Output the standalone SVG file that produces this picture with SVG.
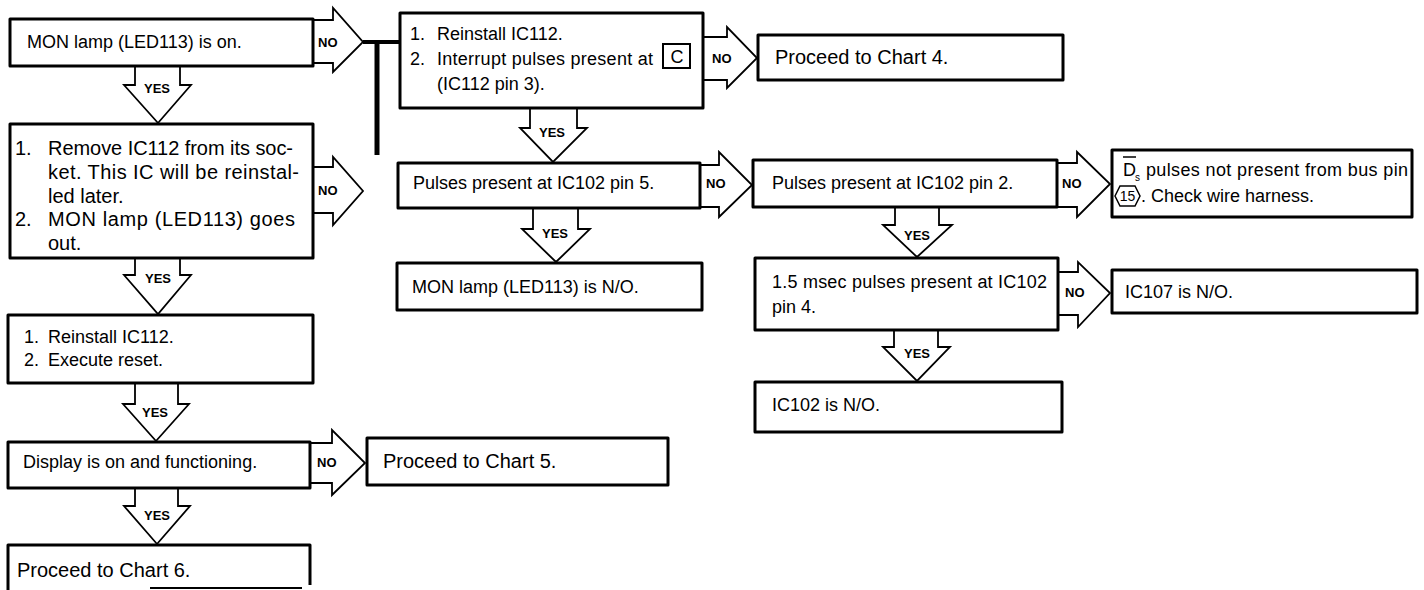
<svg xmlns="http://www.w3.org/2000/svg" width="1424" height="590" viewBox="0 0 1424 590">
<style>
.box{fill:#fff;stroke:#000;stroke-width:3;stroke-linejoin:round}
.arr{fill:#fff;stroke:#000;stroke-width:1.8;stroke-linejoin:miter}
.bar{stroke:#000;fill:none}
text{font-family:"Liberation Sans",Arial,Helvetica,sans-serif;fill:#000}
.t{font-size:18px}
.tl{font-size:20px}
.lbl{font-size:13px;font-weight:bold}
.yes{font-size:13px;font-weight:bold;text-anchor:middle}
</style>
<rect width="1424" height="590" fill="#fff"/>
<g id="connectors">
  <path class="arr" d="M135,66 V85 H124 L158,123 L191,85 H180 V66"/>
  <path class="arr" d="M135,258 V275 H124 L158,314 L191,275 H180 V258"/>
  <path class="arr" d="M135,383 V404 H123 L156,441 L189,404 H178 V383"/>
  <path class="arr" d="M135,488 V506 H124 L157,544 L190,506 H178 V488"/>
  <path class="arr" d="M530,108 V128 H520 L553,162 L587,128 H577 V108"/>
  <path class="arr" d="M533,208 V229 H522 L556,262 L590,229 H578 V208"/>
  <path class="arr" d="M895,207 V225 H883 L917,257 L952,225 H939 V207"/>
  <path class="arr" d="M894,330 V347 H883 L917,381 L950,347 H938 V330"/>
  <path class="arr" d="M313,20 H333 V8 L363,42 L333,72 V63 H313"/>
  <path class="arr" d="M313,167 H333 V157 L363,191 L333,225 V213 H313"/>
  <path class="arr" d="M310,443 H332 V430 L365,463 L332,495 V483 H310"/>
  <path class="arr" d="M703,37 H727 V27 L757,58 L727,88 V80 H703"/>
  <path class="arr" d="M700,165 H719 V152 L752,185 L719,217 V207 H700"/>
  <path class="arr" d="M1057,163 H1077 V152 L1110,184 L1077,217 V207 H1057"/>
  <path class="arr" d="M1058,272 H1078 V262 L1110,293 L1078,327 V315 H1058"/>
  <line class="bar" x1="363" y1="42" x2="401" y2="42" stroke-width="4"/>
  <line class="bar" x1="377" y1="40" x2="377" y2="155" stroke-width="5"/>
  <text class="yes" x="157" y="93">YES</text>
  <text class="yes" x="158" y="283">YES</text>
  <text class="yes" x="155" y="417">YES</text>
  <text class="yes" x="157" y="520">YES</text>
  <text class="yes" x="552" y="137">YES</text>
  <text class="yes" x="555" y="238">YES</text>
  <text class="yes" x="917" y="240">YES</text>
  <text class="yes" x="917" y="358">YES</text>
  <text class="lbl" x="318" y="47">NO</text>
  <text class="lbl" x="318" y="195">NO</text>
  <text class="lbl" x="317" y="467">NO</text>
  <text class="lbl" x="712" y="63">NO</text>
  <text class="lbl" x="706" y="188">NO</text>
  <text class="lbl" x="1062" y="188">NO</text>
  <text class="lbl" x="1065" y="297">NO</text>
</g>
<g id="n-mon-on">
  <rect class="box" x="10" y="19" width="303" height="47"/>
  <text class="t" x="27" y="48">MON lamp (LED113) is on.</text>
</g>
<g id="n-remove">
  <rect class="box" x="10" y="124" width="303" height="134"/>
  <text class="tl" x="15" y="155">1.</text>
  <text class="tl" x="48" y="155" textLength="245" lengthAdjust="spacing">Remove IC112 from its soc-</text>
  <text class="tl" x="48" y="179" textLength="251" lengthAdjust="spacing">ket. This IC will be reinstal-</text>
  <text class="tl" x="48" y="203">led later.</text>
  <text class="tl" x="15" y="226">2.</text>
  <text class="tl" x="48" y="226" textLength="247" lengthAdjust="spacing">MON lamp (LED113) goes</text>
  <text class="tl" x="48" y="250">out.</text>
</g>
<g id="n-reinstall-reset">
  <rect class="box" x="8" y="315" width="305" height="68"/>
  <text class="t" x="24" y="343">1.</text>
  <text class="t" x="48" y="343">Reinstall IC112.</text>
  <text class="t" x="24" y="366">2.</text>
  <text class="t" x="48" y="366">Execute reset.</text>
</g>
<g id="n-display">
  <rect class="box" x="8" y="442" width="302" height="46"/>
  <text class="t" x="23" y="468">Display is on and functioning.</text>
</g>
<g id="n-chart5">
  <rect class="box" x="367" y="438" width="301" height="47"/>
  <text class="tl" x="383" y="468">Proceed to Chart 5.</text>
</g>
<g id="n-chart6">
  <path class="box" d="M8,592 V545 H310 V585"/>
  <line x1="150" y1="588" x2="302" y2="588" stroke="#000" stroke-width="2"/>
  <text class="tl" x="17" y="577">Proceed to Chart 6.</text>
</g>
<g id="n-reinstall-interrupt">
  <rect class="box" x="400" y="13" width="303" height="95"/>
  <text class="t" x="410" y="40">1.</text>
  <text class="t" x="437" y="40">Reinstall IC112.</text>
  <text class="t" x="410" y="65">2.</text>
  <text class="t" x="437" y="65" textLength="216" lengthAdjust="spacing">Interrupt pulses present at</text>
  <rect x="663" y="44" width="27" height="24" fill="none" stroke="#000" stroke-width="2"/>
  <text class="t" x="677" y="63" text-anchor="middle">C</text>
  <text class="t" x="437" y="90">(IC112 pin 3).</text>
</g>
<g id="n-chart4">
  <rect class="box" x="758" y="35" width="305" height="45"/>
  <text class="tl" x="775" y="64">Proceed to Chart 4.</text>
</g>
<g id="n-pin5">
  <rect class="box" x="398" y="163" width="302" height="45"/>
  <text class="t" x="413" y="189">Pulses present at IC102 pin 5.</text>
</g>
<g id="n-mon-no">
  <rect class="box" x="397" y="263" width="305" height="47"/>
  <text class="t" x="412" y="293">MON lamp (LED113) is N/O.</text>
</g>
<g id="n-pin2">
  <rect class="box" x="753" y="160" width="304" height="47"/>
  <text class="t" x="772" y="189">Pulses present at IC102 pin 2.</text>
</g>
<g id="n-ds">
  <rect class="box" x="1112" y="150" width="300" height="67"/>
  <line x1="1123" y1="157" x2="1136" y2="157" stroke="#000" stroke-width="1.5"/>
  <text class="t" x="1123" y="176">D</text>
  <text x="1135" y="181" font-size="10">s</text>
  <text class="t" x="1146" y="176" textLength="262" lengthAdjust="spacing">pulses not present from bus pin</text>
  <polygon points="1115,196 1120,186 1135,186 1140,196 1135,206 1120,206" fill="none" stroke="#000" stroke-width="1.5"/>
  <text x="1127.5" y="201" font-size="14" text-anchor="middle">15</text>
  <text class="t" x="1141" y="202">. Check wire harness.</text>
</g>
<g id="n-pin4">
  <rect class="box" x="755" y="258" width="303" height="72"/>
  <text class="t" x="772" y="288" textLength="275" lengthAdjust="spacing">1.5 msec pulses present at IC102</text>
  <text class="t" x="772" y="313">pin 4.</text>
</g>
<g id="n-ic107">
  <rect class="box" x="1112" y="270" width="305" height="43"/>
  <text class="t" x="1125" y="298">IC107 is N/O.</text>
</g>
<g id="n-ic102">
  <rect class="box" x="755" y="382" width="307" height="50"/>
  <text class="t" x="772" y="411">IC102 is N/O.</text>
</g>
</svg>
